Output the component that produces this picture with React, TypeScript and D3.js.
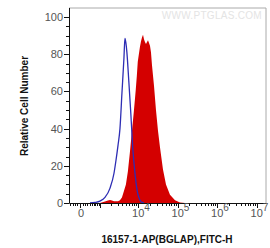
import { useRef, useEffect } from "react";
import * as d3 from "d3";

// control (isotype) histogram, FITC-H intensity vs % of max
const controlX = [420, 670, 980, 1380, 1900, 2420, 2730, 3080, 3460, 3890, 4380, 4640, 4920, 5210, 5850, 6570, 7380, 8280, 9300, 9850, 11200, 12600, 14200];
const controlY = [0, 0.3, 1.0, 3.0, 8, 16, 23, 31, 40, 59, 78, 88.5, 86, 81, 65, 48, 29, 17, 8, 5, 1.5, 0.3, 0];

// 16157-1-AP stained sample
const sampleX = [980, 1380, 1670, 1900, 2140, 2420, 2730, 3080, 3460, 3890, 4380, 4920, 5520, 6200, 6960, 7820, 8280, 8770, 9300, 9850, 10500, 11200, 11900, 12600, 13380, 14170, 15000, 15920, 16900, 17900, 19000, 20100, 21300, 22600, 25400, 28500, 32000, 36000, 42900, 51100, 64500, 86400, 115600, 154600];
const sampleY = [0, 0.8, 1.3, 1.6, 1.4, 1.0, 0.9, 1.0, 1.5, 3, 6.5, 10, 17, 27, 38, 49, 55, 61, 68, 76, 80, 84, 87, 89, 90.5, 88, 86.5, 85.5, 86.5, 87.5, 86, 84.5, 81, 74, 63, 50, 39, 30, 18, 10, 4.5, 1.5, 0.3, 0];

const yTicks = [0, 20, 40, 60, 80, 100];
const xTickValues = [0, 1e4, 1e5, 1e6, 1e7];
const xTickExps = ["", "4", "5", "6", "7"];
const xMajor = [0, 1e3, 1e4, 1e5, 1e6, 1e7];

const C = 340;
const tf = (v: number) => Math.asinh(v / (2 * C)) / Math.LN10;

const Chart = () => {
  const svgRef = useRef(null);

  useEffect(() => {
    if (!svgRef.current) return;
    const svg = d3.select(svgRef.current);
    svg.selectAll("*").remove();

    const left = 69, right = 266, top = 8, bottom = 203;
    const xs = d3.scaleLinear().domain([-0.2785, 4.709]).range([left, right]);
    const x = (v: number) => xs(tf(v));
    const y = d3.scaleLinear().domain([0, 100]).range([bottom, 17]);

    // watermark
    svg.append("text")
      .attr("x", 262).attr("y", 19)
      .attr("text-anchor", "end")
      .attr("font-family", "Liberation Sans, Arial, sans-serif")
      .attr("font-size", 10)
      .attr("letter-spacing", 0.3)
      .attr("fill", "#e4e4e4")
      .text("WWW.PTGLAS.COM");

    // sample fill
    const sampleData = sampleX.map((v, i) => [v, sampleY[i]]);
    svg.append("path")
      .datum(sampleData)
      .attr("fill", "#d40000")
      .attr("d", d3.area<number[]>()
        .x((d) => x(d[0]))
        .y0(y(0))
        .y1((d) => y(d[1]))
        .curve(d3.curveLinear) as any);

    // control outline
    const controlData = controlX.map((v, i) => [v, controlY[i]]);
    svg.append("path")
      .datum(controlData)
      .attr("fill", "none")
      .attr("stroke", "#2d2db4")
      .attr("stroke-width", 1.3)
      .attr("d", d3.line<number[]>()
        .x((d) => x(d[0]))
        .y((d) => y(d[1]))
        .curve(d3.curveMonotoneX) as any);

    // frame
    svg.append("path")
      .attr("d", `M${left},${top}H${right}V${bottom}`)
      .attr("fill", "none")
      .attr("stroke", "#aaa")
      .attr("stroke-width", 1);
    svg.append("path")
      .attr("d", `M${left + 0.5},${top}V${bottom + 0.5}H${right}`)
      .attr("fill", "none")
      .attr("stroke", "#111")
      .attr("stroke-width", 1);

    // y ticks
    const yg = svg.append("g");
    d3.range(0, 101, 5).forEach((t) => {
      const major = t % 20 === 0;
      yg.append("line")
        .attr("x1", left - (major ? 5 : 3)).attr("x2", left)
        .attr("y1", Math.round(y(t)) + 0.5).attr("y2", Math.round(y(t)) + 0.5)
        .attr("stroke", "#111");
    });
    yg.selectAll("text.yl")
      .data(yTicks)
      .join("text")
      .attr("x", 63)
      .attr("y", (d) => y(d) + 4)
      .attr("text-anchor", "end")
      .attr("font-family", "Liberation Sans, Arial, sans-serif")
      .attr("font-size", 11)
      .attr("fill", "#555")
      .text((d) => d);

    // x ticks
    const xg = svg.append("g").attr("stroke", "#111");
    const minors: number[] = [];
    for (let m = -400; m <= 900; m += 100) if (m !== 0) minors.push(m);
    for (let k = 3; k <= 6; k++) for (let m = 2; m <= 9; m++) minors.push(m * 10 ** k);
    minors.forEach((v) => {
      const px = Math.round(x(v)) + 0.5;
      xg.append("line").attr("x1", px).attr("x2", px)
        .attr("y1", bottom).attr("y2", bottom + 3);
    });
    xMajor.forEach((v) => {
      const px = Math.round(x(v)) + 0.5;
      xg.append("line").attr("x1", px).attr("x2", px)
        .attr("y1", bottom).attr("y2", bottom + 5);
    });

    const xl = svg.append("g")
      .attr("font-family", "Liberation Sans, Arial, sans-serif")
      .attr("fill", "#555");
    xTickValues.forEach((v, i) => {
      const t = xl.append("text")
        .attr("x", v === 0 ? x(v) + 1 : x(v) + 3)
        .attr("y", 217)
        .attr("text-anchor", "middle")
        .attr("font-size", 11);
      if (xTickExps[i] === "") {
        t.text("0");
      } else {
        t.append("tspan").text("10");
        t.append("tspan").attr("dy", -6).attr("font-size", 10).text(xTickExps[i]);
      }
    });

    // axis titles
    svg.append("text")
      .attr("x", 167).attr("y", 243)
      .attr("text-anchor", "middle")
      .attr("font-family", "Liberation Sans, Arial, sans-serif")
      .attr("font-weight", "bold")
      .attr("font-size", 10)
      .attr("fill", "#111")
      .text("16157-1-AP(BGLAP),FITC-H");
    svg.append("text")
      .attr("transform", "translate(28,106) rotate(-90)")
      .attr("text-anchor", "middle")
      .attr("font-family", "Liberation Sans, Arial, sans-serif")
      .attr("font-weight", "bold")
      .attr("font-size", 10)
      .attr("fill", "#111")
      .text("Relative Cell Number");
  }, []);

  return (
    <svg
      ref={svgRef}
      width={270}
      height={248}
      style={{ position: "absolute", left: 0, top: 0, background: "#fff" }}
    />
  );
};

export default function App() {
  return <Chart />;
}
